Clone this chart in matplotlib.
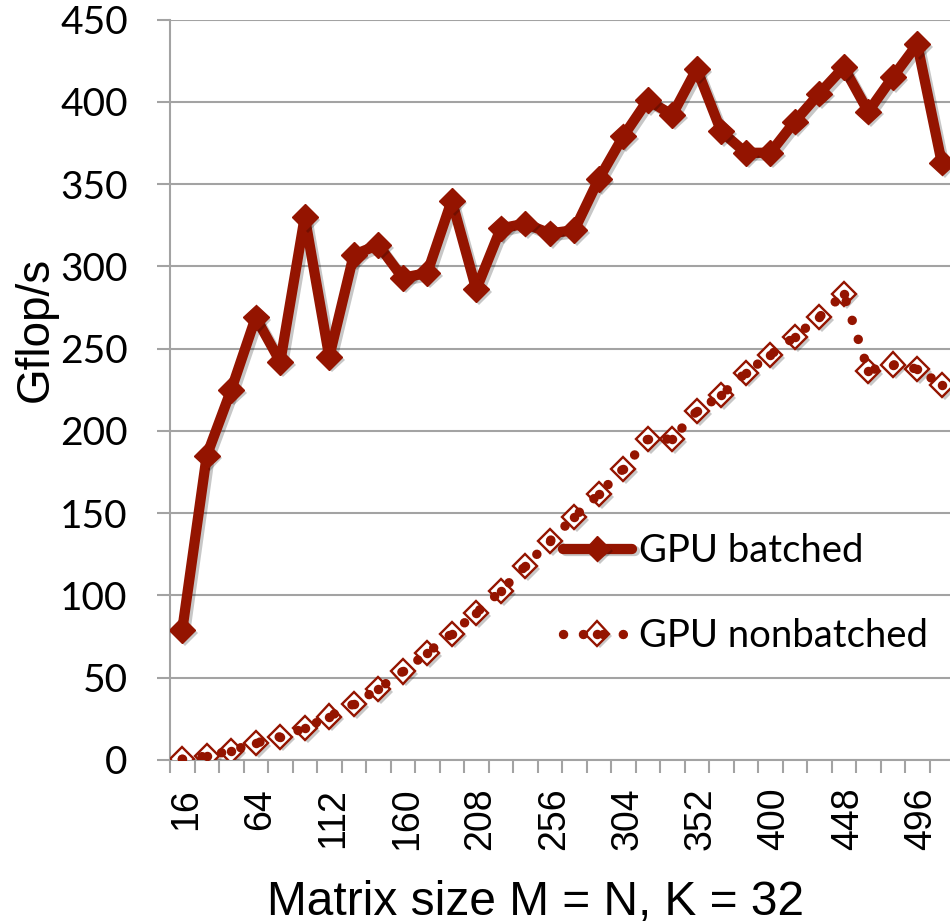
import numpy as np
import matplotlib
matplotlib.use('Agg')
import matplotlib.pyplot as plt
import matplotlib.patheffects as pe
import matplotlib.transforms as mtransforms
from matplotlib.legend_handler import HandlerTuple

### DATA
sizes = [16, 32, 48, 64, 80, 96, 112, 128, 144, 160, 176, 192, 208, 224, 240, 256,
         272, 288, 304, 320, 336, 352, 368, 384, 400, 416, 432, 448, 464, 480, 496, 512]
batched = [79, 185, 225, 269, 242, 330, 245, 307, 313, 293, 296, 340, 286, 323, 326, 320,
           322, 353, 379, 401, 392, 420, 382, 369, 369, 388, 405, 421, 394, 415, 435, 363]
nonbatched = [0.5, 2.4, 5.7, 10.2, 14.2, 19.3, 26.4, 34.1, 43.1, 53.8, 65, 76.8, 89.4, 102.6, 117.8, 133,
              147.7, 161.5, 177, 195, 195, 212, 221.6, 235.4, 246.1, 257.2, 269.1, 283.4, 236.5, 240.3, 237.6, 228]
yticks = [0, 50, 100, 150, 200, 250, 300, 350, 400, 450]
label_every = 3
names = ['GPU batched', 'GPU nonbatched']

### STYLE
red = '#941400'
gray = '#A3A3A3'

fig = plt.figure(figsize=(9.5, 9.24), dpi=100)
# plot area runs a little past the right edge, like the cropped original
ax = fig.add_axes([170/950, 164/924, 784/950, 740.5/924])

x = np.arange(len(sizes))

line_shadow = [pe.SimpleLineShadow(offset=(2, -2), shadow_color='black', alpha=0.22), pe.Normal()]
patch_shadow = [pe.SimplePatchShadow(offset=(2, -2), shadow_rgbFace='black', alpha=0.22), pe.Normal()]

### batched: thick solid line + filled diamonds
b_line, = ax.plot(x, batched, color=red, lw=7.4, solid_capstyle='round',
                  solid_joinstyle='round', zorder=4, path_effects=line_shadow)
b_mark, = ax.plot(x, batched, ls='none', marker='D', ms=13, mfc=red, mec=red,
                  mew=1, zorder=5, path_effects=patch_shadow)

### nonbatched: open diamonds under a round-dot line
n_mark, = ax.plot(x, nonbatched, ls='none', marker='D', ms=12.3, mfc='white', mec=red,
                  mew=1.7, zorder=3, path_effects=patch_shadow)
n_line, = ax.plot(x, nonbatched, color=red, lw=6.8, ls=(0, (0.01, 2.1)),
                  dash_capstyle='round', marker='o', ms=6.8, mfc=red, mec=red, mew=0,
                  zorder=3.5)

### axes
ax.set_xlim(-0.5, len(sizes) - 0.5)
ax.set_ylim(yticks[0], yticks[-1])
ax.set_yticks(yticks)
ax.yaxis.grid(True, color=gray, lw=1.5)
ax.set_axisbelow(True)
for s in ['top', 'right']:
    ax.spines[s].set_visible(False)
for s in ['left', 'bottom']:
    ax.spines[s].set_color(gray)
    ax.spines[s].set_linewidth(1.5)

ax.tick_params(axis='y', length=9.4, width=1.5, color=gray, pad=21, labelsize=28,
               labelfontfamily='Lato')

# ticks between categories, labels on every third category
ax.set_xticks(np.arange(len(sizes) + 1) - 0.5)
ax.set_xticklabels([])
ax.set_xticks(x[::label_every], minor=True)
ax.set_xticklabels([str(s) for s in sizes[::label_every]], minor=True, rotation=90)
ax.tick_params(axis='x', which='major', length=9.4, width=1.5, color=gray)
ax.tick_params(axis='x', which='minor', length=0, pad=20, labelsize=27,
               labelfontfamily='Liberation Sans')
# nudge the rotated labels a few pixels right, as in the original
shift = mtransforms.ScaledTranslation(4/100, 0, fig.dpi_scale_trans)
for lab in ax.get_xticklabels(minor=True):
    lab.set_transform(lab.get_transform() + shift)

ax.set_ylabel('Gflop/s', fontsize=33, family='Liberation Sans')
ax.yaxis.set_label_coords(-0.1429, 0.582)
ax.set_xlabel('Matrix size M = N, K = 32', fontsize=34.5, family='Liberation Sans',
              va='baseline')
ax.xaxis.set_label_coords(0.4668, -0.209)

leg = ax.legend([(b_line, b_mark), (n_mark, n_line)], names,
                handler_map={tuple: HandlerTuple(ndivide=1)},
                loc='upper left', bbox_to_anchor=(563/950, 1 - 533/924),
                bbox_transform=fig.transFigure, frameon=False, borderpad=0,
                borderaxespad=0, handlelength=1.8, handletextpad=0.2,
                labelspacing=1.28, numpoints=1, prop={'family': 'Lato', 'size': 27.5})
leg.set_zorder(10)

plt.savefig('out.png', dpi=100)
